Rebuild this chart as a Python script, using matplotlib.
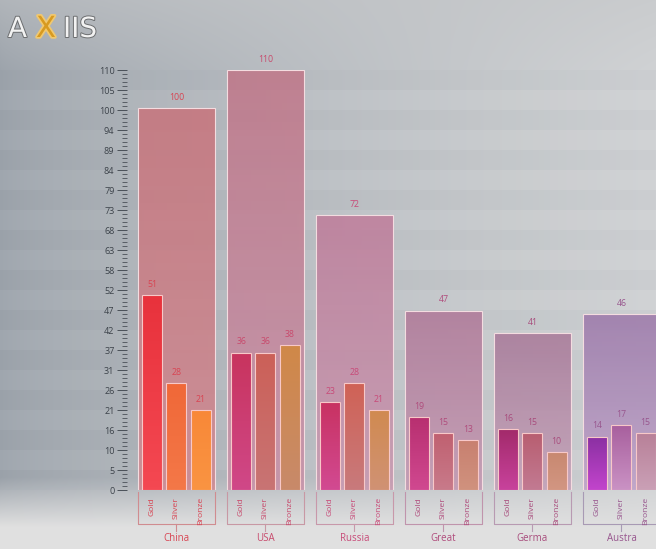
import numpy as np
import matplotlib
matplotlib.use("Agg")
import matplotlib.pyplot as plt
import matplotlib.patheffects as pe
from matplotlib.colors import to_rgb, LinearSegmentedColormap

plt.rcParams['font.family'] = ['Open Sans', 'DejaVu Sans']

countries = ["China", "USA", "Russia", "Great", "Germa", "Austra"]
medal_types = ["Gold", "Silver", "Bronze"]
totals = [100, 110, 72, 47, 41, 46]
gold = [51, 36, 23, 19, 16, 14]
silver = [28, 36, 28, 15, 15, 17]
bronze = [21, 38, 21, 13, 10, 15]
y_max = 110

# per-country palette: (top, bottom) for total box, gold, silver, bronze
box_cols = [("#c8747c", "#d08890"), ("#c07688", "#c890a8"), ("#bf7c9a", "#c898b0"),
            ("#b07898", "#c498b2"), ("#a87898", "#c4a0b8"), ("#9c78aa", "#bea0c8")]
gold_cols = [("#e8323c", "#f44852"), ("#c8345e", "#d04888"), ("#c83262", "#d24a92"),
             ("#b83070", "#d04890"), ("#a22a6a", "#c8429c"), ("#8a30a2", "#c244cc")]
silver_cols = [("#f06838", "#f47848"), ("#cc6058", "#c87474"), ("#d06256", "#c87a7c"),
               ("#c06070", "#c87a8a"), ("#b85e70", "#c27a92"), ("#a8609e", "#ca92c4")]
bronze_cols = [("#f88838", "#fa9442"), ("#d08848", "#c88a6a"), ("#d08a50", "#d09274"),
               ("#c88070", "#d0927e"), ("#c88870", "#d29682"), ("#b88098", "#caa0b6")]
text_cols = ["#d84452", "#c84a6c", "#c84a78", "#b04c7c", "#a84c7c", "#98568e"]
line_cols = ["#d08c90", "#c898a4", "#c898aa", "#c094ac", "#b89ab2", "#a89ab4"]

W, H = 656, 549
fig = plt.figure(figsize=(W / 100, H / 100), dpi=100)

# background wash
bg = fig.add_axes([0, 0, 1, 1], zorder=-10)
xs = np.linspace(0, 1, W)[None, :, None]
ys = np.linspace(0, 1, H)[:, None, None]
left_c = np.array(to_rgb("#9ca3ab"))
right_c = np.array(to_rgb("#d0d2d4"))
img = left_c + (right_c - left_c) * xs ** 0.7
top_c = np.array(to_rgb("#c4c6c8"))
wt = np.clip((0.13 - ys) / 0.13, 0, 1) * 0.5
img = img * (1 - wt) + top_c * wt
bot_c = np.array(to_rgb("#e0e0e0"))
wb = np.clip((ys - 0.87) / 0.09, 0, 1)
img = img * (1 - wb) + bot_c * wb
bg.imshow(img, aspect="auto", extent=[0, 1, 0, 1], origin="upper")
bg.set_axis_off()

# logo
stroke = [pe.withStroke(linewidth=1.4, foreground="#6c6e70")]
fig.text(8 / W, 1 - 29 / H, "A", fontsize=20, color="#f2f2f2", va="center",
         family="DejaVu Sans", path_effects=stroke)
fig.text(36 / W, 1 - 29 / H, "X", fontsize=21, color="#d89a20", va="center",
         family="DejaVu Sans", path_effects=[pe.withStroke(linewidth=2.5, foreground="#f0c870")])
fig.text(63 / W, 1 - 29 / H, "IIS", fontsize=20, color="#f2f2f2", va="center",
         family="DejaVu Sans", path_effects=stroke)

ax = fig.add_axes([127 / W, 59 / H, (W - 127) / W, 420 / H])
ax.set_xlim(-0.556, 5.388)
ax.set_ylim(0, y_max)
ax.patch.set_alpha(0)
for s in ax.spines.values():
    s.set_visible(False)

major = np.linspace(0, y_max, 22)
minor = np.linspace(0, y_max, 106)
ax.set_yticks(major)
ax.set_yticklabels([str(int(round(v))) for v in major])
ax.set_yticks(minor, minor=True)
ax.tick_params(axis="y", which="major", length=7, width=0.7, color="#4a5058",
               labelsize=6.5, labelcolor="#3c424a", pad=2)
ax.tick_params(axis="y", which="minor", length=3.5, width=0.6, color="#4a5058")
ax.set_xticks([])

# horizontal bands between major ticks
for i in range(len(major) - 1):
    shade = "white" if i % 2 else "#7a828a"
    ax.axhspan(major[i], major[i + 1], xmin=-0.3, xmax=1, color=shade,
               alpha=0.04, lw=0, clip_on=False, zorder=0)


def grad_rect(x0, w, h, cols, alpha=1.0, z=2, edge="#f6d0d0"):
    cmap = LinearSegmentedColormap.from_list("g", [cols[0], cols[1]])
    grad = np.linspace(0, 1, 64)[:, None]
    im = ax.imshow(grad, cmap=cmap, aspect="auto", extent=[x0, x0 + w, 0, h],
                   origin="upper", alpha=alpha, zorder=z)
    rect = plt.Rectangle((x0, 0), w, h, fill=False, ec=edge, lw=0.8, zorder=z + 0.1)
    ax.add_patch(rect)
    im.set_clip_path(rect)


box_w = 0.865
bar_w = 0.225
offsets = [-0.272, 0.0, 0.272]

for i, name in enumerate(countries):
    grad_rect(i - box_w / 2, box_w, totals[i], box_cols[i], alpha=0.85, z=1,
              edge="#f4dce0")
    ax.text(i, totals[i] + 1.6, str(totals[i]), ha="center", va="bottom",
            fontsize=6.3, color=text_cols[i])
    for j, (vals, cols) in enumerate([(gold, gold_cols), (silver, silver_cols),
                                       (bronze, bronze_cols)]):
        xc = i + offsets[j]
        grad_rect(xc - bar_w / 2, bar_w, vals[i], cols[i], z=3, edge="#f8c8c8")
        ax.text(xc, vals[i] + 1.6, str(vals[i]), ha="center", va="bottom",
                fontsize=6.3, color=text_cols[i])
        ax.text(xc, -1.8, medal_types[j], rotation=90, ha="center", va="top",
                fontsize=6.1, color=text_cols[i], clip_on=False)
    # bracket under each group
    lc = line_cols[i]
    xl, xr = i - box_w / 2, i + box_w / 2
    ax.plot([xl, xl, xr, xr], [-0.5, -8.9, -8.9, -0.5], color=lc, lw=0.8,
            clip_on=False)
    ax.plot([i, i], [-8.9, -10.8], color=lc, lw=0.8, clip_on=False)
    ax.text(i, -12.6, name, ha="center", va="center", fontsize=7,
            color=text_cols[i], clip_on=False)

fig.savefig("out.png", dpi=100)
